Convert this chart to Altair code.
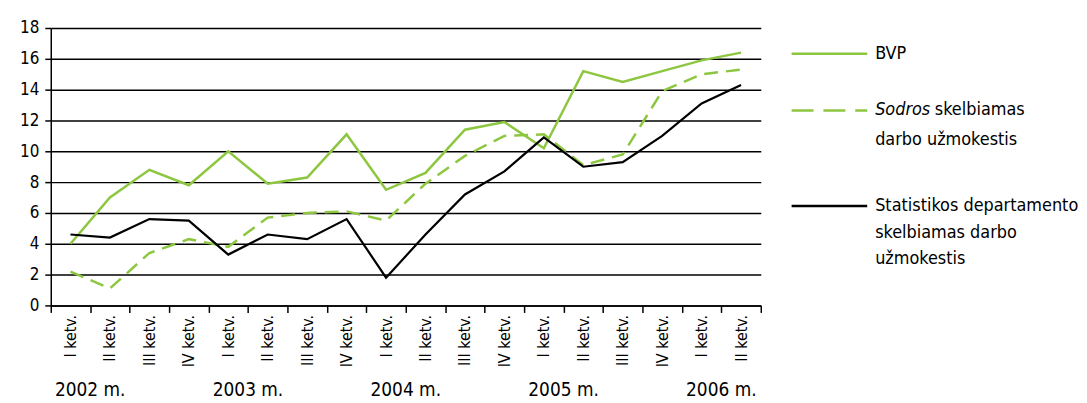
import altair as alt
import pandas as pd

quarters = ["I", "II", "III", "IV"]
years = ["2002", "2003", "2004", "2005", "2006"]
cats = [f"{y} {q}" for y in years for q in quarters][:18]

bvp = [4.0, 7.0, 8.8, 7.8, 10.0, 7.9, 8.3, 11.1, 7.5, 8.6, 11.4, 11.9, 10.2, 15.2, 14.5, 15.2, 15.9, 16.4]
sodra = [2.2, 1.1, 3.4, 4.3, 3.8, 5.7, 6.0, 6.1, 5.5, 7.9, 9.7, 11.0, 11.1, 9.1, 9.8, 13.9, 15.0, 15.3]
stat = [4.6, 4.4, 5.6, 5.5, 3.3, 4.6, 4.3, 5.6, 1.8, 4.6, 7.2, 8.7, 10.9, 9.0, 9.3, 11.0, 13.1, 14.3]

series_names = ["BVP", "Sodros", "Stat"]
GREEN = "#8DC63F"
FONT = "Liberation Sans Narrow, DejaVu Sans Condensed, Liberation Sans, Arial, sans-serif"

rows = []
for name, vals in zip(series_names, [bvp, sodra, stat]):
    for c, v in zip(cats, vals):
        rows.append({"q": c, "v": v, "s": name})
df = pd.DataFrame(rows)

W, H = 714, 279

xenc = alt.X("q:N", sort=cats, bandPosition=0.5,
             scale=alt.Scale(type="band", domain=cats, paddingInner=0, paddingOuter=0),
             axis=alt.Axis(title=None, labelAngle=-90, tickBand="extent",
                           labelExpr="indexof(datum.label, ' ') > 0 ? split(datum.label, ' ')[1] + ' ketv.' : ''",
                           labelFont=FONT, labelFontSize=16, labelColor="#000",
                           domainColor="#000", tickColor="#000", tickSize=7,
                           domainWidth=1.5, tickWidth=1.5, labelPadding=2, grid=False))
yenc = alt.Y("v:Q", scale=alt.Scale(domain=[0, 18], nice=False),
             axis=alt.Axis(title=None, values=list(range(0, 19, 2)), grid=True,
                           gridColor="#000", gridWidth=1.5, gridOpacity=1,
                           labelFont=FONT, labelFontSize=17, labelColor="#000",
                           domainColor="#000", domainWidth=1.5, tickColor="#000",
                           tickSize=6, tickWidth=1.5, labelPadding=6))

base = alt.Chart(df)
l_bvp = base.transform_filter("datum.s == 'BVP'").mark_line(color=GREEN, strokeWidth=2.5).encode(x=xenc, y=yenc)
l_sod = base.transform_filter("datum.s == 'Sodros'").mark_line(color=GREEN, strokeWidth=2.5, strokeDash=[14, 8]).encode(x=xenc, y=yenc)
l_stat = base.transform_filter("datum.s == 'Stat'").mark_line(color="#000", strokeWidth=2.2).encode(x=xenc, y=yenc)

year_df = pd.DataFrame({"q": [f"{y} I" for y in years], "t": [f"{y} m." for y in years]})
years_txt = alt.Chart(year_df).mark_text(font=FONT, fontSize=19, color="#000", baseline="middle").encode(
    x=alt.X("q:N", sort=cats, bandPosition=1, scale=alt.Scale(type="band", domain=cats, paddingInner=0, paddingOuter=0)),
    y=alt.value(H + 85), text="t:N")

main = alt.layer(l_bvp, l_sod, l_stat, years_txt).properties(width=W, height=H)

# legend panel
leg_lines = pd.DataFrame({"s": series_names, "y": [52, 109, 205]})
LW = 300
yl = alt.Y("y:Q", scale=alt.Scale(domain=[26, 305], range=[0, H]), axis=None)

def legline(name, color, dash=None, width=2.5):
    kw = dict(color=color, strokeWidth=width)
    if dash:
        kw["strokeDash"] = dash
    d = leg_lines[leg_lines.s == name]
    return alt.Chart(d).mark_rule(**kw).encode(x=alt.value(30), x2=alt.value(106), y=yl)

LFS = 18
leg_text = pd.DataFrame({
    "t": ["BVP", "darbo užmokestis", "Statistikos departamento", "skelbiamas darbo", "užmokestis"],
    "y": [52, 139, 205, 232, 258]})
txt = alt.Chart(leg_text).mark_text(font=FONT, fontSize=LFS, color="#000", align="left", baseline="middle").encode(
    x=alt.value(114), y=yl, text="t:N")
sod_i = alt.Chart(pd.DataFrame({"t": ["Sodros"], "y": [109]})).mark_text(
    font=FONT, fontSize=LFS, fontStyle="italic", color="#000", align="left", baseline="middle").encode(
    x=alt.value(114), y=yl, text="t:N")
sod_r = alt.Chart(pd.DataFrame({"t": ["skelbiamas"], "y": [109]})).mark_text(
    font=FONT, fontSize=LFS, color="#000", align="left", baseline="middle").encode(
    x=alt.value(174), y=yl, text="t:N")

legend = alt.layer(
    legline("BVP", GREEN),
    legline("Sodros", GREEN, [22, 10]),
    legline("Stat", "#000", None, 2.5),
    txt, sod_i, sod_r
).properties(width=LW, height=H)

chart = alt.hconcat(main, legend, spacing=0).configure_view(stroke=None).properties(
    padding={"left": 11, "top": 10, "right": 0, "bottom": 0}, background="white")

chart.save("out.html", embed_options={"renderer": "svg", "actions": False})
